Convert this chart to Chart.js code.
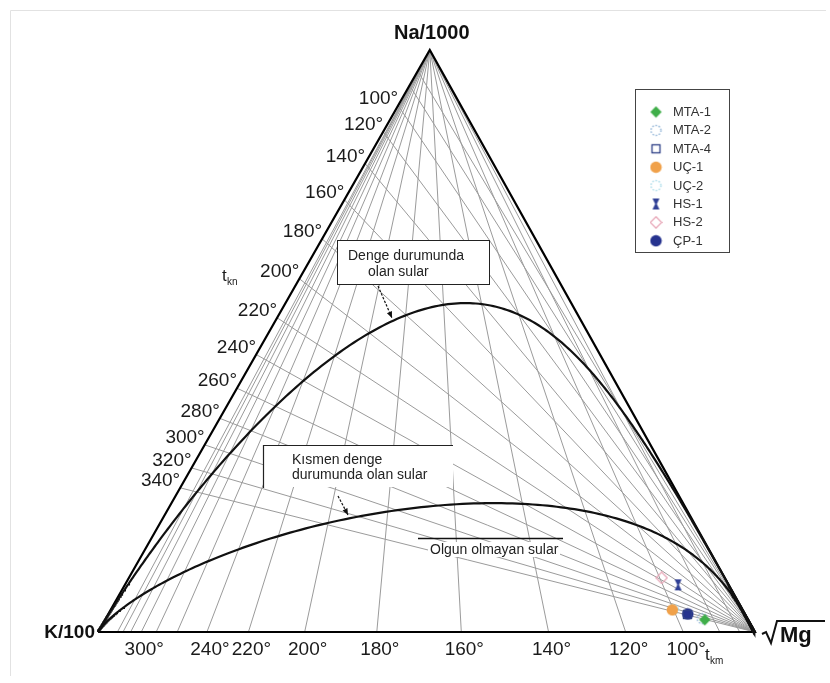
<!DOCTYPE html>
<html>
<head>
<meta charset="utf-8">
<script src="https://cdn.jsdelivr.net/npm/chart.js@4.4.1/dist/chart.umd.min.js"></script>
<style>
  html, body { margin: 0; padding: 0; background: #fff; }
  #wrap { width: 830px; height: 683px; position: relative; }
  canvas { display: block; }
</style>
</head>
<body>
<div id="wrap"><canvas id="c" width="830" height="683"></canvas></div>
<script>
// Sample waters, relative % of Na/1000 : K/100 : sqrt(Mg)
const sampleNames  = ['MTA-1', 'MTA-2', 'MTA-4', 'UÇ-1', 'UÇ-2', 'HS-1', 'HS-2', 'ÇP-1'];
const sampleNa     = [2.1, 2.3, 3.0, 3.8, 3.9, 8.1, 9.3, 3.1];
const sampleK      = [6.6, 6.9, 8.8, 10.7, 10.5, 7.7, 9.6, 8.7];
const sampleMg     = [91.3, 90.8, 88.2, 85.5, 85.6, 84.2, 81.1, 88.2];
const sampleColors = ['#3fae49', '#8fb3d6', '#2d3f86', '#f0a14a', '#a9dbe9', '#2f3f95', '#e8a7b8', '#26338f'];
const sampleShapes = ['diamond', 'dotCircle', 'openSquare', 'circle', 'dotCircle', 'hourglass', 'openDiamond', 'circle'];

// Na/K isotherms (t_kn) and K/Mg isotherms (t_km), °C
const tknTemps  = [60, 80, 100, 120, 140, 160, 180, 200, 220, 240, 260, 280, 300, 320, 340];
const tknLabels = [100, 120, 140, 160, 180, 200, 220, 240, 260, 280, 300, 320, 340];
const tkmTemps  = [60, 80, 100, 120, 140, 160, 180, 200, 220, 240, 260, 280, 300, 320, 340, 360];
const tkmLabels = [300, 240, 220, 200, 180, 160, 140, 120, 100];

// Maturity index of the two boundary curves: full equilibrium and immature waters
const maturityLevels = [2.66, 2.0];

// Vertex names
const vertexNames = ['Na/1000', 'K/100', 'Mg'];

// ---- geothermometers (Giggenbach 1988) ----
const naK  = t => Math.pow(10, 1390 / (273 + t) - 1.75);          // Na/K
const kSqrtMg = t => Math.pow(10, (14.0 - 4410 / (273 + t)) / 2);  // K/sqrt(Mg)

// ternary (Na/1000, K/100, sqrtMg) -> plane coordinates, K at (0,0), Mg at (100,0)
const APEX = 0.505;
function tern(c1, c2, c3) {
  const s = c1 + c2 + c3;
  const n = c1 / s * 100, m = c3 / s * 100;
  return { x: m + APEX * n, y: n };
}

const lineDs = (pts, color, width, order) => ({
  data: pts, showLine: true, borderColor: color, borderWidth: width,
  pointRadius: 0, pointHoverRadius: 0, fill: false, tension: 0, order: order
});

const datasets = [];

// markers
function makeMarker(shape, color) {
  const size = 13, h = size / 2;
  const c = document.createElement('canvas');
  c.width = size; c.height = size;
  const g = c.getContext('2d');
  g.fillStyle = color; g.strokeStyle = color; g.lineWidth = 1.3;
  g.beginPath();
  if (shape === 'diamond' || shape === 'openDiamond') {
    g.moveTo(h, 0.8); g.lineTo(size - 0.8, h); g.lineTo(h, size - 0.8); g.lineTo(0.8, h); g.closePath();
    shape === 'diamond' ? g.fill() : g.stroke();
  } else if (shape === 'circle') {
    g.arc(h, h, h - 0.8, 0, Math.PI * 2); g.fill();
  } else if (shape === 'dotCircle') {
    g.setLineDash([1.6, 1.6]); g.arc(h, h, h - 1.5, 0, Math.PI * 2); g.stroke();
  } else if (shape === 'openSquare') {
    g.strokeRect(2.5, 2.5, size - 5, size - 5);
  } else if (shape === 'hourglass') {
    g.moveTo(3, 1); g.lineTo(size - 3, 1); g.lineTo(h + 0.8, h); g.lineTo(size - 3, size - 1);
    g.lineTo(3, size - 1); g.lineTo(h - 0.8, h); g.closePath(); g.fill();
  }
  return c;
}
const markerImgs = sampleShapes.map((s, i) => makeMarker(s, sampleColors[i]));

sampleNames.forEach((name, i) => {
  datasets.push({
    label: name,
    data: [tern(sampleNa[i], sampleK[i], sampleMg[i])],
    showLine: false, pointStyle: markerImgs[i], pointRadius: 6, pointHoverRadius: 6,
    order: 0
  });
});

// maturity curves
maturityLevels.forEach(mi => {
  const pts = [tern(0, 1, 0)];
  for (let lr = 8; lr >= -5; lr -= 0.02) {
    const r = Math.pow(10, lr);
    const nk = Math.pow(10, mi - 0.63 * lr);
    pts.push(tern(nk / 10, 1, 100 / r));
  }
  pts.push(tern(0, 0, 1));
  datasets.push(lineDs(pts, '#111', 2.2, 1));
});

// triangle frame
datasets.push(lineDs([tern(0, 1, 0), tern(1, 0, 0), tern(0, 0, 1), tern(0, 1, 0)], '#000', 2.2, 2));

// isotherm grid
tknTemps.forEach(t => datasets.push(lineDs([tern(naK(t) / 10, 1, 0), tern(0, 0, 1)], '#9b9b9b', 1, 3)));
tkmTemps.forEach(t => datasets.push(lineDs([tern(1, 0, 0), tern(0, 1, 100 / kSqrtMg(t))], '#9b9b9b', 1, 3)));

// plane -> canvas mapping
const X_MIN = -98 / 6.57, X_MAX = (830 - 98) / 6.57;
const Y_MIN = -(683 - 632) / 5.82, Y_MAX = 632 / 5.82;

function arrow(ctx, x0, y0, x1, y1) {
  ctx.save();
  ctx.strokeStyle = '#111'; ctx.fillStyle = '#111'; ctx.lineWidth = 1.2;
  ctx.setLineDash([2.5, 1.5]);
  ctx.beginPath(); ctx.moveTo(x0, y0); ctx.lineTo(x1, y1); ctx.stroke();
  ctx.setLineDash([]);
  const a = Math.atan2(y1 - y0, x1 - x0), L = 7, w = 0.4;
  ctx.beginPath();
  ctx.moveTo(x1, y1);
  ctx.lineTo(x1 - L * Math.cos(a - w), y1 - L * Math.sin(a - w));
  ctx.lineTo(x1 - L * Math.cos(a + w), y1 - L * Math.sin(a + w));
  ctx.closePath(); ctx.fill();
  ctx.restore();
}

const decorations = {
  id: 'decorations',
  beforeDraw(chart) {
    const ctx = chart.ctx;
    ctx.save();
    ctx.fillStyle = '#fff';
    ctx.fillRect(0, 0, chart.width, chart.height);
    ctx.strokeStyle = '#e2e2e2'; ctx.lineWidth = 1;
    ctx.beginPath();
    ctx.moveTo(10.5, 676); ctx.lineTo(10.5, 10.5); ctx.lineTo(826, 10.5);
    ctx.stroke();
    ctx.restore();
  },
  afterDatasetsDraw(chart) {
    const ctx = chart.ctx, sx = chart.scales.x, sy = chart.scales.y;
    const P = p => [sx.getPixelForValue(p.x), sy.getPixelForValue(p.y)];
    ctx.save();
    const font = '"Liberation Sans", Arial, Helvetica, sans-serif';

    // equilibrium note
    ctx.fillStyle = '#fff'; ctx.fillRect(337, 240, 152, 44);
    ctx.strokeStyle = '#222'; ctx.lineWidth = 1; ctx.strokeRect(337.5, 240.5, 152, 44);
    ctx.fillStyle = '#222'; ctx.font = '14px ' + font; ctx.textBaseline = 'middle'; ctx.textAlign = 'left';
    ctx.fillText('Denge durumunda', 348, 256);
    ctx.fillText('olan sular', 368, 272);
    arrow(ctx, 378, 286, 392, 318);

    // partial equilibrium note
    ctx.fillStyle = '#fff'; ctx.fillRect(263, 445, 190, 42);
    ctx.strokeStyle = '#222'; ctx.lineWidth = 1.2;
    ctx.beginPath(); ctx.moveTo(263.5, 488); ctx.lineTo(263.5, 445.5); ctx.lineTo(453, 445.5); ctx.stroke();
    ctx.fillStyle = '#222';
    ctx.fillText('Kısmen denge', 292, 460);
    ctx.fillText('durumunda olan sular', 292, 475);
    arrow(ctx, 338, 496, 348, 515);

    // immature note
    ctx.fillStyle = '#fff'; ctx.fillRect(428, 542, 132, 15);
    ctx.strokeStyle = '#111'; ctx.lineWidth = 1.5;
    ctx.beginPath(); ctx.moveTo(418, 538.5); ctx.lineTo(563, 538.5); ctx.stroke();
    ctx.fillStyle = '#222';
    ctx.fillText('Olgun olmayan sular', 430, 550);

    // t_kn labels along the Na-K side
    ctx.font = '19px ' + font; ctx.fillStyle = '#1a1a1a'; ctx.textAlign = 'right';
    tknLabels.forEach(t => {
      const [px, py] = P(tern(naK(t) / 10, 1, 0));
      ctx.fillText(t + '°', px, py - 7);
    });
    // t_km labels along the K-Mg base
    ctx.textAlign = 'center';
    tkmLabels.forEach(t => {
      const [px] = P(tern(0, 1, 100 / kSqrtMg(t)));
      ctx.fillText(t + '°', px + 3, 650);
    });

    // axis symbols
    ctx.textAlign = 'left';
    ctx.font = '17px ' + font; ctx.fillText('t', 222, 276);
    ctx.font = '10px ' + font; ctx.fillText('kn', 227, 282);
    ctx.font = '17px ' + font; ctx.fillText('t', 705, 655);
    ctx.font = '10px ' + font; ctx.fillText('km', 710, 661);

    // vertex names
    const [ax, ay] = P(tern(1, 0, 0));
    const [kx, ky] = P(tern(0, 1, 0));
    const [mx, my] = P(tern(0, 0, 1));
    ctx.fillStyle = '#111';
    ctx.font = 'bold 20px ' + font; ctx.textAlign = 'center';
    ctx.fillText(vertexNames[0], ax + 2, ay - 17);
    ctx.textAlign = 'right';
    ctx.font = 'bold 19px ' + font;
    ctx.fillText(vertexNames[1], kx - 3, ky + 1);

    // radical sign with overbar, then Mg
    ctx.strokeStyle = '#111'; ctx.lineWidth = 2; ctx.lineJoin = 'miter';
    ctx.beginPath();
    ctx.moveTo(mx + 7, my + 2);
    ctx.lineTo(mx + 11, my);
    ctx.lineTo(mx + 16, my + 11);
    ctx.lineTo(mx + 22, my - 11);
    ctx.lineTo(825, my - 11);
    ctx.stroke();
    ctx.textAlign = 'left'; ctx.textBaseline = 'alphabetic';
    ctx.font = 'bold 22px ' + font;
    ctx.fillText(vertexNames[2], mx + 25, my + 10);
    ctx.textBaseline = 'middle';

    // legend
    ctx.fillStyle = '#fff'; ctx.fillRect(635, 89, 94, 163);
    ctx.strokeStyle = '#444'; ctx.lineWidth = 1; ctx.strokeRect(635.5, 89.5, 94, 163);
    ctx.font = '13px ' + font; ctx.fillStyle = '#333';
    sampleNames.forEach((name, i) => {
      const y = 112 + i * 18.4;
      ctx.drawImage(markerImgs[i], 656 - 6.5, y - 6.5);
      ctx.fillText(name, 673, y + 0.5);
    });
    ctx.restore();
  }
};

new Chart(document.getElementById('c'), {
  type: 'scatter',
  data: { datasets },
  options: {
    responsive: false,
    devicePixelRatio: 1,
    animation: false,
    events: [],
    layout: { padding: 0, autoPadding: false },
    plugins: { legend: { display: false }, tooltip: { enabled: false }, title: { display: false } },
    scales: {
      x: { type: 'linear', display: false, min: X_MIN, max: X_MAX },
      y: { type: 'linear', display: false, min: Y_MIN, max: Y_MAX }
    }
  },
  plugins: [decorations]
});
</script>
</body>
</html>
